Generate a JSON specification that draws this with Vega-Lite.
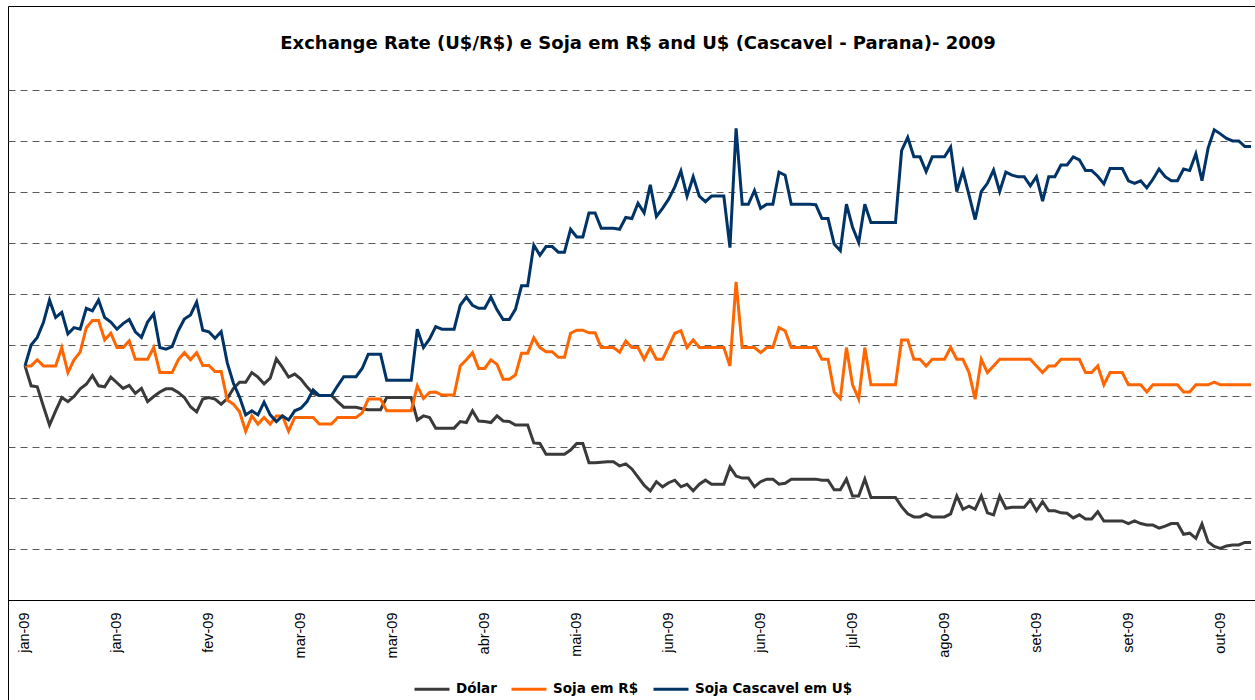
{
  "$schema": "https://vega.github.io/schema/vega-lite/v6.json",
  "autosize": {"type": "none"},
  "padding": {"left": 8, "top": 6, "right": 0, "bottom": 0},
  "width": 1260,
  "height": 700,
  "background": "#ffffff",
  "title": {
    "text": "Exchange Rate (U$/R$) e Soja em R$ and U$ (Cascavel - Parana)- 2009",
    "font": "DejaVu Sans",
    "fontSize": 18,
    "fontWeight": "bold",
    "color": "#000000",
    "anchor": "middle",
    "frame": "group",
    "baseline": "alphabetic",
    "offset": 0,
    "dy": 61
  },
  "config": {
    "view": {"stroke": "#000000", "strokeWidth": 1}
  },
  "data": {
    "values": [
      {"i":0,"Dólar":45.9,"Soja em R$":45.9,"Soja Cascavel em U$":45.9},
      {"i":1,"Dólar":42.0,"Soja em R$":45.9,"Soja Cascavel em U$":50.0},
      {"i":2,"Dólar":41.8,"Soja em R$":47.1,"Soja Cascavel em U$":51.5},
      {"i":3,"Dólar":38.0,"Soja em R$":45.9,"Soja Cascavel em U$":54.4},
      {"i":4,"Dólar":34.3,"Soja em R$":45.9,"Soja Cascavel em U$":58.8},
      {"i":5,"Dólar":37.1,"Soja em R$":45.9,"Soja Cascavel em U$":55.4},
      {"i":6,"Dólar":39.7,"Soja em R$":49.5,"Soja Cascavel em U$":56.4},
      {"i":7,"Dólar":38.9,"Soja em R$":44.6,"Soja Cascavel em U$":52.2},
      {"i":8,"Dólar":39.9,"Soja em R$":47.1,"Soja Cascavel em U$":53.4},
      {"i":9,"Dólar":41.4,"Soja em R$":48.6,"Soja Cascavel em U$":53.1},
      {"i":10,"Dólar":42.3,"Soja em R$":53.4,"Soja Cascavel em U$":57.2},
      {"i":11,"Dólar":44.0,"Soja em R$":54.8,"Soja Cascavel em U$":56.7},
      {"i":12,"Dólar":42.0,"Soja em R$":54.8,"Soja Cascavel em U$":58.8},
      {"i":13,"Dólar":41.8,"Soja em R$":51.0,"Soja Cascavel em U$":55.4},
      {"i":14,"Dólar":43.7,"Soja em R$":52.3,"Soja Cascavel em U$":54.5},
      {"i":15,"Dólar":42.6,"Soja em R$":49.5,"Soja Cascavel em U$":53.1},
      {"i":16,"Dólar":41.5,"Soja em R$":49.5,"Soja Cascavel em U$":54.2},
      {"i":17,"Dólar":42.1,"Soja em R$":50.8,"Soja Cascavel em U$":55.0},
      {"i":18,"Dólar":40.5,"Soja em R$":47.2,"Soja Cascavel em U$":52.6},
      {"i":19,"Dólar":41.5,"Soja em R$":47.2,"Soja Cascavel em U$":51.5},
      {"i":20,"Dólar":38.9,"Soja em R$":47.2,"Soja Cascavel em U$":54.5},
      {"i":21,"Dólar":39.9,"Soja em R$":49.5,"Soja Cascavel em U$":56.1},
      {"i":22,"Dólar":40.8,"Soja em R$":44.6,"Soja Cascavel em U$":49.5},
      {"i":23,"Dólar":41.4,"Soja em R$":44.6,"Soja Cascavel em U$":49.2},
      {"i":24,"Dólar":41.4,"Soja em R$":44.6,"Soja Cascavel em U$":49.7},
      {"i":25,"Dólar":40.7,"Soja em R$":47.1,"Soja Cascavel em U$":52.8},
      {"i":26,"Dólar":39.7,"Soja em R$":48.5,"Soja Cascavel em U$":55.1},
      {"i":27,"Dólar":37.9,"Soja em R$":47.1,"Soja Cascavel em U$":55.9},
      {"i":28,"Dólar":36.9,"Soja em R$":48.5,"Soja Cascavel em U$":58.4},
      {"i":29,"Dólar":39.4,"Soja em R$":46.0,"Soja Cascavel em U$":52.9},
      {"i":30,"Dólar":39.7,"Soja em R$":46.0,"Soja Cascavel em U$":52.6},
      {"i":31,"Dólar":39.4,"Soja em R$":44.8,"Soja Cascavel em U$":51.3},
      {"i":32,"Dólar":38.4,"Soja em R$":44.8,"Soja Cascavel em U$":52.6},
      {"i":33,"Dólar":39.5,"Soja em R$":39.2,"Soja Cascavel em U$":46.5},
      {"i":34,"Dólar":41.5,"Soja em R$":38.4,"Soja Cascavel em U$":42.5},
      {"i":35,"Dólar":42.7,"Soja em R$":36.9,"Soja Cascavel em U$":39.8},
      {"i":36,"Dólar":42.7,"Soja em R$":33.1,"Soja Cascavel em U$":36.3},
      {"i":37,"Dólar":44.6,"Soja em R$":36.1,"Soja Cascavel em U$":37.1},
      {"i":38,"Dólar":43.7,"Soja em R$":34.5,"Soja Cascavel em U$":36.3},
      {"i":39,"Dólar":42.4,"Soja em R$":35.8,"Soja Cascavel em U$":38.8},
      {"i":40,"Dólar":43.5,"Soja em R$":34.5,"Soja Cascavel em U$":36.3},
      {"i":41,"Dólar":47.3,"Soja em R$":36.1,"Soja Cascavel em U$":35.0},
      {"i":42,"Dólar":45.6,"Soja em R$":36.1,"Soja Cascavel em U$":36.1},
      {"i":43,"Dólar":43.7,"Soja em R$":33.1,"Soja Cascavel em U$":35.3},
      {"i":44,"Dólar":44.3,"Soja em R$":35.8,"Soja Cascavel em U$":37.1},
      {"i":45,"Dólar":43.3,"Soja em R$":35.8,"Soja Cascavel em U$":37.6},
      {"i":46,"Dólar":41.8,"Soja em R$":35.8,"Soja Cascavel em U$":38.9},
      {"i":47,"Dólar":40.5,"Soja em R$":35.8,"Soja Cascavel em U$":41.2},
      {"i":48,"Dólar":40.1,"Soja em R$":34.5,"Soja Cascavel em U$":40.1},
      {"i":49,"Dólar":40.1,"Soja em R$":34.5,"Soja Cascavel em U$":40.1},
      {"i":50,"Dólar":40.1,"Soja em R$":34.5,"Soja Cascavel em U$":40.1},
      {"i":51,"Dólar":38.9,"Soja em R$":35.8,"Soja Cascavel em U$":42.0},
      {"i":52,"Dólar":37.8,"Soja em R$":35.8,"Soja Cascavel em U$":43.8},
      {"i":53,"Dólar":37.8,"Soja em R$":35.8,"Soja Cascavel em U$":43.8},
      {"i":54,"Dólar":37.8,"Soja em R$":35.8,"Soja Cascavel em U$":43.8},
      {"i":55,"Dólar":37.5,"Soja em R$":36.7,"Soja Cascavel em U$":45.4},
      {"i":56,"Dólar":37.3,"Soja em R$":39.4,"Soja Cascavel em U$":48.2},
      {"i":57,"Dólar":37.3,"Soja em R$":39.4,"Soja Cascavel em U$":48.2},
      {"i":58,"Dólar":37.3,"Soja em R$":39.4,"Soja Cascavel em U$":48.2},
      {"i":59,"Dólar":39.7,"Soja em R$":37.1,"Soja Cascavel em U$":43.1},
      {"i":60,"Dólar":39.7,"Soja em R$":37.1,"Soja Cascavel em U$":43.1},
      {"i":61,"Dólar":39.7,"Soja em R$":37.1,"Soja Cascavel em U$":43.1},
      {"i":62,"Dólar":39.7,"Soja em R$":37.1,"Soja Cascavel em U$":43.1},
      {"i":63,"Dólar":39.7,"Soja em R$":37.1,"Soja Cascavel em U$":43.1},
      {"i":64,"Dólar":35.3,"Soja em R$":42.0,"Soja Cascavel em U$":53.1},
      {"i":65,"Dólar":36.1,"Soja em R$":39.5,"Soja Cascavel em U$":49.5},
      {"i":66,"Dólar":35.8,"Soja em R$":40.7,"Soja Cascavel em U$":51.2},
      {"i":67,"Dólar":33.7,"Soja em R$":40.8,"Soja Cascavel em U$":53.6},
      {"i":68,"Dólar":33.7,"Soja em R$":40.2,"Soja Cascavel em U$":53.1},
      {"i":69,"Dólar":33.7,"Soja em R$":40.2,"Soja Cascavel em U$":53.1},
      {"i":70,"Dólar":33.7,"Soja em R$":40.2,"Soja Cascavel em U$":53.1},
      {"i":71,"Dólar":35.0,"Soja em R$":45.9,"Soja Cascavel em U$":57.8},
      {"i":72,"Dólar":34.8,"Soja em R$":47.1,"Soja Cascavel em U$":59.4},
      {"i":73,"Dólar":37.1,"Soja em R$":48.5,"Soja Cascavel em U$":57.8},
      {"i":74,"Dólar":35.1,"Soja em R$":45.4,"Soja Cascavel em U$":57.2},
      {"i":75,"Dólar":35.0,"Soja em R$":45.4,"Soja Cascavel em U$":57.2},
      {"i":76,"Dólar":34.8,"Soja em R$":47.1,"Soja Cascavel em U$":59.4},
      {"i":77,"Dólar":36.1,"Soja em R$":46.2,"Soja Cascavel em U$":56.9},
      {"i":78,"Dólar":35.1,"Soja em R$":43.3,"Soja Cascavel em U$":55.0},
      {"i":79,"Dólar":35.0,"Soja em R$":43.3,"Soja Cascavel em U$":55.0},
      {"i":80,"Dólar":34.3,"Soja em R$":44.1,"Soja Cascavel em U$":57.0},
      {"i":81,"Dólar":34.3,"Soja em R$":48.4,"Soja Cascavel em U$":61.6},
      {"i":82,"Dólar":34.3,"Soja em R$":48.4,"Soja Cascavel em U$":61.6},
      {"i":83,"Dólar":30.8,"Soja em R$":51.4,"Soja Cascavel em U$":69.6},
      {"i":84,"Dólar":30.7,"Soja em R$":49.5,"Soja Cascavel em U$":67.6},
      {"i":85,"Dólar":28.6,"Soja em R$":48.7,"Soja Cascavel em U$":69.3},
      {"i":86,"Dólar":28.6,"Soja em R$":48.7,"Soja Cascavel em U$":69.3},
      {"i":87,"Dólar":28.6,"Soja em R$":47.6,"Soja Cascavel em U$":68.2},
      {"i":88,"Dólar":28.6,"Soja em R$":47.6,"Soja Cascavel em U$":68.2},
      {"i":89,"Dólar":29.4,"Soja em R$":52.3,"Soja Cascavel em U$":72.7},
      {"i":90,"Dólar":30.7,"Soja em R$":52.9,"Soja Cascavel em U$":71.2},
      {"i":91,"Dólar":30.7,"Soja em R$":52.9,"Soja Cascavel em U$":71.2},
      {"i":92,"Dólar":26.9,"Soja em R$":52.4,"Soja Cascavel em U$":75.9},
      {"i":93,"Dólar":26.9,"Soja em R$":52.4,"Soja Cascavel em U$":75.9},
      {"i":94,"Dólar":27.0,"Soja em R$":49.5,"Soja Cascavel em U$":72.9},
      {"i":95,"Dólar":27.1,"Soja em R$":49.5,"Soja Cascavel em U$":72.9},
      {"i":96,"Dólar":27.1,"Soja em R$":49.5,"Soja Cascavel em U$":72.9},
      {"i":97,"Dólar":26.3,"Soja em R$":48.6,"Soja Cascavel em U$":72.7},
      {"i":98,"Dólar":26.7,"Soja em R$":50.8,"Soja Cascavel em U$":75.0},
      {"i":99,"Dólar":25.7,"Soja em R$":49.5,"Soja Cascavel em U$":74.8},
      {"i":100,"Dólar":24.1,"Soja em R$":49.5,"Soja Cascavel em U$":77.8},
      {"i":101,"Dólar":22.5,"Soja em R$":47.2,"Soja Cascavel em U$":75.9},
      {"i":102,"Dólar":21.4,"Soja em R$":49.5,"Soja Cascavel em U$":81.4},
      {"i":103,"Dólar":23.2,"Soja em R$":47.2,"Soja Cascavel em U$":75.2},
      {"i":104,"Dólar":22.2,"Soja em R$":47.2,"Soja Cascavel em U$":76.8},
      {"i":105,"Dólar":23.0,"Soja em R$":49.7,"Soja Cascavel em U$":78.6},
      {"i":106,"Dólar":23.5,"Soja em R$":52.3,"Soja Cascavel em U$":81.0},
      {"i":107,"Dólar":22.2,"Soja em R$":52.8,"Soja Cascavel em U$":84.1},
      {"i":108,"Dólar":22.7,"Soja em R$":49.5,"Soja Cascavel em U$":79.2},
      {"i":109,"Dólar":21.4,"Soja em R$":51.0,"Soja Cascavel em U$":83.0},
      {"i":110,"Dólar":22.7,"Soja em R$":49.5,"Soja Cascavel em U$":79.2},
      {"i":111,"Dólar":23.5,"Soja em R$":49.5,"Soja Cascavel em U$":78.1},
      {"i":112,"Dólar":22.7,"Soja em R$":49.5,"Soja Cascavel em U$":79.2},
      {"i":113,"Dólar":22.7,"Soja em R$":49.5,"Soja Cascavel em U$":79.2},
      {"i":114,"Dólar":22.7,"Soja em R$":49.5,"Soja Cascavel em U$":79.2},
      {"i":115,"Dólar":26.1,"Soja em R$":45.9,"Soja Cascavel em U$":69.1},
      {"i":116,"Dólar":24.3,"Soja em R$":62.4,"Soja Cascavel em U$":92.5},
      {"i":117,"Dólar":23.9,"Soja em R$":49.5,"Soja Cascavel em U$":77.6},
      {"i":118,"Dólar":23.9,"Soja em R$":49.5,"Soja Cascavel em U$":77.6},
      {"i":119,"Dólar":22.2,"Soja em R$":49.5,"Soja Cascavel em U$":80.3},
      {"i":120,"Dólar":23.2,"Soja em R$":48.5,"Soja Cascavel em U$":76.8},
      {"i":121,"Dólar":23.7,"Soja em R$":49.5,"Soja Cascavel em U$":77.6},
      {"i":122,"Dólar":23.7,"Soja em R$":49.5,"Soja Cascavel em U$":77.6},
      {"i":123,"Dólar":22.7,"Soja em R$":53.4,"Soja Cascavel em U$":83.9},
      {"i":124,"Dólar":22.9,"Soja em R$":52.8,"Soja Cascavel em U$":83.3},
      {"i":125,"Dólar":23.7,"Soja em R$":49.5,"Soja Cascavel em U$":77.6},
      {"i":126,"Dólar":23.7,"Soja em R$":49.5,"Soja Cascavel em U$":77.6},
      {"i":127,"Dólar":23.7,"Soja em R$":49.5,"Soja Cascavel em U$":77.6},
      {"i":128,"Dólar":23.7,"Soja em R$":49.5,"Soja Cascavel em U$":77.6},
      {"i":129,"Dólar":23.7,"Soja em R$":49.5,"Soja Cascavel em U$":77.5},
      {"i":130,"Dólar":23.5,"Soja em R$":47.2,"Soja Cascavel em U$":74.8},
      {"i":131,"Dólar":23.5,"Soja em R$":47.2,"Soja Cascavel em U$":74.8},
      {"i":132,"Dólar":21.6,"Soja em R$":40.8,"Soja Cascavel em U$":69.8},
      {"i":133,"Dólar":21.6,"Soja em R$":39.5,"Soja Cascavel em U$":68.5},
      {"i":134,"Dólar":23.7,"Soja em R$":49.5,"Soja Cascavel em U$":77.6},
      {"i":135,"Dólar":20.4,"Soja em R$":42.2,"Soja Cascavel em U$":73.1},
      {"i":136,"Dólar":20.4,"Soja em R$":39.4,"Soja Cascavel em U$":70.1},
      {"i":137,"Dólar":23.7,"Soja em R$":49.5,"Soja Cascavel em U$":77.6},
      {"i":138,"Dólar":20.1,"Soja em R$":42.2,"Soja Cascavel em U$":74.0},
      {"i":139,"Dólar":20.1,"Soja em R$":42.2,"Soja Cascavel em U$":74.0},
      {"i":140,"Dólar":20.1,"Soja em R$":42.2,"Soja Cascavel em U$":74.0},
      {"i":141,"Dólar":20.1,"Soja em R$":42.2,"Soja Cascavel em U$":74.0},
      {"i":142,"Dólar":20.1,"Soja em R$":42.2,"Soja Cascavel em U$":74.0},
      {"i":143,"Dólar":18.3,"Soja em R$":51.0,"Soja Cascavel em U$":88.1},
      {"i":144,"Dólar":16.9,"Soja em R$":51.0,"Soja Cascavel em U$":90.7},
      {"i":145,"Dólar":16.3,"Soja em R$":47.2,"Soja Cascavel em U$":86.9},
      {"i":146,"Dólar":16.3,"Soja em R$":47.2,"Soja Cascavel em U$":86.9},
      {"i":147,"Dólar":16.9,"Soja em R$":45.9,"Soja Cascavel em U$":84.0},
      {"i":148,"Dólar":16.3,"Soja em R$":47.2,"Soja Cascavel em U$":86.9},
      {"i":149,"Dólar":16.3,"Soja em R$":47.2,"Soja Cascavel em U$":86.9},
      {"i":150,"Dólar":16.3,"Soja em R$":47.2,"Soja Cascavel em U$":86.9},
      {"i":151,"Dólar":16.9,"Soja em R$":49.5,"Soja Cascavel em U$":88.8},
      {"i":152,"Dólar":20.4,"Soja em R$":47.2,"Soja Cascavel em U$":80.1},
      {"i":153,"Dólar":17.8,"Soja em R$":47.2,"Soja Cascavel em U$":84.1},
      {"i":154,"Dólar":18.4,"Soja em R$":44.6,"Soja Cascavel em U$":79.4},
      {"i":155,"Dólar":17.8,"Soja em R$":39.4,"Soja Cascavel em U$":74.6},
      {"i":156,"Dólar":20.4,"Soja em R$":47.2,"Soja Cascavel em U$":80.1},
      {"i":157,"Dólar":17.1,"Soja em R$":44.6,"Soja Cascavel em U$":81.7},
      {"i":158,"Dólar":16.7,"Soja em R$":45.9,"Soja Cascavel em U$":84.3},
      {"i":159,"Dólar":20.4,"Soja em R$":47.2,"Soja Cascavel em U$":80.1},
      {"i":160,"Dólar":18.0,"Soja em R$":47.2,"Soja Cascavel em U$":83.9},
      {"i":161,"Dólar":18.2,"Soja em R$":47.2,"Soja Cascavel em U$":83.3},
      {"i":162,"Dólar":18.2,"Soja em R$":47.2,"Soja Cascavel em U$":83.0},
      {"i":163,"Dólar":18.2,"Soja em R$":47.2,"Soja Cascavel em U$":83.0},
      {"i":164,"Dólar":19.6,"Soja em R$":47.2,"Soja Cascavel em U$":81.2},
      {"i":165,"Dólar":17.5,"Soja em R$":45.9,"Soja Cascavel em U$":83.0},
      {"i":166,"Dólar":19.3,"Soja em R$":44.6,"Soja Cascavel em U$":78.2},
      {"i":167,"Dólar":17.5,"Soja em R$":45.9,"Soja Cascavel em U$":83.0},
      {"i":168,"Dólar":17.5,"Soja em R$":45.9,"Soja Cascavel em U$":83.0},
      {"i":169,"Dólar":17.1,"Soja em R$":47.2,"Soja Cascavel em U$":85.3},
      {"i":170,"Dólar":17.0,"Soja em R$":47.2,"Soja Cascavel em U$":85.3},
      {"i":171,"Dólar":16.1,"Soja em R$":47.2,"Soja Cascavel em U$":86.9},
      {"i":172,"Dólar":16.7,"Soja em R$":47.2,"Soja Cascavel em U$":86.3},
      {"i":173,"Dólar":15.9,"Soja em R$":44.6,"Soja Cascavel em U$":84.2},
      {"i":174,"Dólar":15.9,"Soja em R$":44.6,"Soja Cascavel em U$":84.2},
      {"i":175,"Dólar":17.3,"Soja em R$":45.9,"Soja Cascavel em U$":83.1},
      {"i":176,"Dólar":15.5,"Soja em R$":42.2,"Soja Cascavel em U$":81.6},
      {"i":177,"Dólar":15.5,"Soja em R$":44.6,"Soja Cascavel em U$":84.6},
      {"i":178,"Dólar":15.5,"Soja em R$":44.6,"Soja Cascavel em U$":84.6},
      {"i":179,"Dólar":15.5,"Soja em R$":44.6,"Soja Cascavel em U$":84.6},
      {"i":180,"Dólar":15.0,"Soja em R$":42.2,"Soja Cascavel em U$":82.2},
      {"i":181,"Dólar":15.5,"Soja em R$":42.2,"Soja Cascavel em U$":81.7},
      {"i":182,"Dólar":15.0,"Soja em R$":42.2,"Soja Cascavel em U$":82.2},
      {"i":183,"Dólar":14.7,"Soja em R$":40.8,"Soja Cascavel em U$":80.8},
      {"i":184,"Dólar":14.7,"Soja em R$":42.2,"Soja Cascavel em U$":82.5},
      {"i":185,"Dólar":14.1,"Soja em R$":42.2,"Soja Cascavel em U$":84.5},
      {"i":186,"Dólar":14.5,"Soja em R$":42.2,"Soja Cascavel em U$":83.0},
      {"i":187,"Dólar":15.0,"Soja em R$":42.2,"Soja Cascavel em U$":82.2},
      {"i":188,"Dólar":15.0,"Soja em R$":42.2,"Soja Cascavel em U$":82.2},
      {"i":189,"Dólar":12.9,"Soja em R$":40.8,"Soja Cascavel em U$":84.5},
      {"i":190,"Dólar":13.1,"Soja em R$":40.8,"Soja Cascavel em U$":84.2},
      {"i":191,"Dólar":12.1,"Soja em R$":42.2,"Soja Cascavel em U$":87.5},
      {"i":192,"Dólar":14.9,"Soja em R$":42.2,"Soja Cascavel em U$":82.2},
      {"i":193,"Dólar":11.4,"Soja em R$":42.2,"Soja Cascavel em U$":88.6},
      {"i":194,"Dólar":10.5,"Soja em R$":42.7,"Soja Cascavel em U$":92.2},
      {"i":195,"Dólar":10.1,"Soja em R$":42.2,"Soja Cascavel em U$":91.4},
      {"i":196,"Dólar":10.6,"Soja em R$":42.2,"Soja Cascavel em U$":90.5},
      {"i":197,"Dólar":10.8,"Soja em R$":42.2,"Soja Cascavel em U$":90.0},
      {"i":198,"Dólar":10.8,"Soja em R$":42.2,"Soja Cascavel em U$":90.0},
      {"i":199,"Dólar":11.3,"Soja em R$":42.2,"Soja Cascavel em U$":88.9},
      {"i":200,"Dólar":11.3,"Soja em R$":42.2,"Soja Cascavel em U$":88.9}
    ]
  },
  "transform": [
    {"fold": ["Dólar", "Soja em R$", "Soja Cascavel em U$"], "as": ["serie", "v"]}
  ],
  "mark": {"type": "line", "strokeWidth": 3, "strokeJoin": "miter", "interpolate": "linear"},
  "encoding": {
    "x": {
      "field": "i",
      "type": "quantitative",
      "scale": {"domain": [-2.773, 202.77], "nice": false, "zero": false},
      "axis": {
        "title": null,
        "offset": -106,
        "values": [0, 15, 30, 45, 60, 75, 90, 105, 120, 135, 150, 165, 180, 195],
        "labelExpr": "['jan-09','jan-09','fev-09','mar-09','mar-09','abr-09','mai-09','jun-09','jun-09','jul-09','ago-09','set-09','set-09','out-09'][round(datum.value/15)]",
        "labelAngle": 270,
        "labelFont": "Liberation Sans",
        "labelFontSize": 14.5,
        "labelColor": "#000000",
        "labelPadding": 12,
        "labelOverlap": false,
        "labelFlush": false,
        "ticks": false,
        "grid": false,
        "domain": true,
        "domainColor": "#000000",
        "domainWidth": 1
      }
    },
    "y": {
      "field": "v",
      "type": "quantitative",
      "scale": {"domain": [-20.78, 116.47], "nice": false, "zero": false},
      "axis": {
        "title": null,
        "values": [10, 20, 30, 40, 50, 60, 70, 80, 90, 100],
        "labels": false,
        "ticks": false,
        "domain": false,
        "grid": true,
        "gridColor": "#5a5a5a",
        "gridDash": [7, 5],
        "gridWidth": 1
      }
    },
    "color": {
      "field": "serie",
      "type": "nominal",
      "scale": {
        "domain": ["Dólar", "Soja em R$", "Soja Cascavel em U$"],
        "range": ["#3a3a3a", "#ff6600", "#003366"]
      },
      "legend": {
        "orient": "none",
        "legendX": 405,
        "legendY": 664,
        "direction": "horizontal",
        "title": null,
        "symbolType": "stroke",
        "symbolSize": 1225,
        "symbolStrokeWidth": 3,
        "labelFont": "DejaVu Sans",
        "labelFontSize": 13.5,
        "labelFontWeight": "bold",
        "labelColor": "#000000",
        "labelOffset": 5,
        "columnPadding": 8,
        "labelLimit": 300
      }
    }
  }
}
